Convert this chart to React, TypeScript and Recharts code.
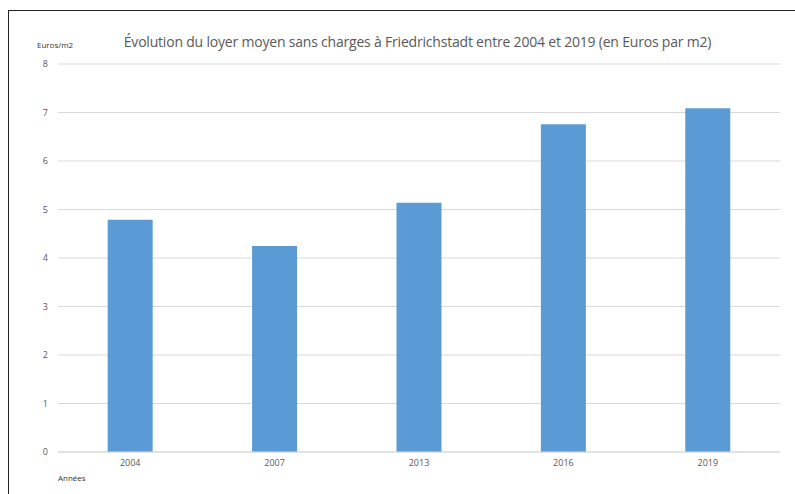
import React from "react";
import { BarChart, Bar, XAxis, YAxis, CartesianGrid } from "recharts";

// Loyer moyen à Friedrichstadt (Euros/m2)
const years = ["2004", "2007", "2013", "2016", "2019"];
const rents = [4.79, 4.25, 5.14, 6.76, 7.09];
const yTicks = [0, 1, 2, 3, 4, 5, 6, 7, 8];

const TITLE =
  "Évolution du loyer moyen sans charges à Friedrichstadt entre 2004 et 2019 (en Euros par m2)";

const FONT = "'Open Sans', 'Noto Sans', sans-serif";
const GREY = "#595959";

const data = years.map((y, i) => ({ year: y, rent: rents[i] }));

const App: React.FC = () => {
  return (
    <div
      style={{
        position: "absolute",
        left: 0,
        top: 0,
        width: 795,
        height: 494,
        background: "#fff",
        fontFamily: FONT,
        overflow: "hidden",
      }}
    >
      {/* frame: only top and left edges visible in the crop */}
      <div
        style={{
          position: "absolute",
          left: 8,
          top: 10,
          width: 790,
          height: 490,
          borderTop: "1.5px solid #222",
          borderLeft: "1.5px solid #222",
        }}
      />
      <BarChart
        width={795}
        height={494}
        data={data}
        margin={{ top: 64, right: 15, left: 8, bottom: 12 }}
        barCategoryGap="34.4%"
      >
        <CartesianGrid vertical={false} stroke="#d9d9d9" />
        <XAxis
          dataKey="year"
          height={30}
          axisLine={{ stroke: "#d9d9d9" }}
          tickLine={false}
          tick={{ fill: GREY, fontSize: 9, fontFamily: FONT }}
        />
        <YAxis
          width={50}
          domain={[0, 8]}
          ticks={yTicks}
          axisLine={false}
          tickLine={false}
          tickMargin={4}
          tick={{ fill: GREY, fontSize: 9, fontFamily: FONT }}
        />
        <Bar dataKey="rent" fill="#5b9bd5" isAnimationActive={false} />
      </BarChart>
      <div
        style={{
          position: "absolute",
          left: 0,
          width: 835,
          top: 32,
          textAlign: "center",
          fontSize: 14,
          letterSpacing: -0.2,
          color: GREY,
          whiteSpace: "nowrap",
        }}
      >
        {TITLE}
      </div>
      <div
        style={{
          position: "absolute",
          left: 37,
          top: 39,
          fontSize: 8,
          color: "#333",
        }}
      >
        Euros/m2
      </div>
      <div
        style={{
          position: "absolute",
          left: 58,
          top: 472,
          fontSize: 8,
          color: "#333",
        }}
      >
        Années
      </div>
    </div>
  );
};

export default App;
